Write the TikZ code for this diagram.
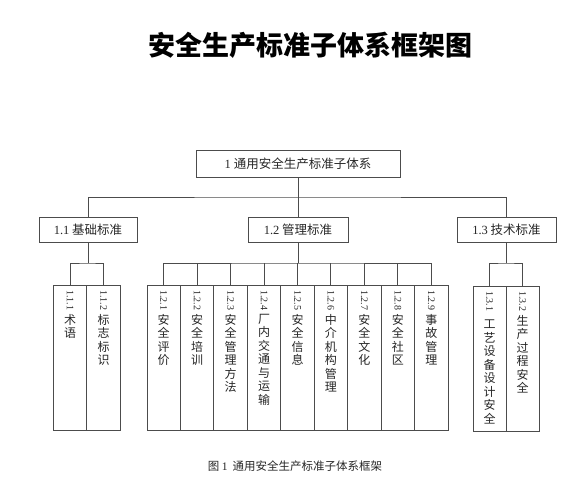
\documentclass[tikz,border=0pt]{standalone}
\usepackage{fontspec}
\usepackage{graphicx}
\setmainfont{Liberation Serif}
\newfontfamily\cjk{Noto Sans CJK SC}
\newcommand{\vnum}[1]{\rotatebox{-90}{\rmfamily\fontsize{10}{10}\selectfont #1}}

\begin{document}
\begin{tikzpicture}
			[x=1pt, y=-1pt,
			link/.style={draw=black!70, line width=.9pt},
			block/.style={draw=black!70, line width=.9pt, inner sep=0pt, font=\cjk\fontsize{12.5}{15}\selectfont, text=black!85},
			leaf/.style={draw=black!70, line width=.9pt, minimum width=33.4pt, minimum height=145pt, inner sep=0pt, anchor=north},
			vtext/.style={anchor=north, align=center, inner sep=0pt, font=\cjk\fontsize{12}{13.5}\selectfont, text=black!85}]
			\useasboundingbox (0,0) rectangle (586,499);
			\node[font=\cjk\bfseries\fontsize{27}{30}\selectfont] (title) at (310,45) {安全生产标准子体系框架图};
			% top levels
			\node[block, minimum width=204pt, minimum height=27pt] (top) at (298,163.5) {{\rmfamily 1} 通用安全生产标准子体系};
			\node[block, minimum width=98pt, minimum height=25pt] (l1) at (88,229.5) {{\rmfamily 1.1} 基础标准};
			\node[block, minimum width=100pt, minimum height=25pt] (l2) at (298,229.5) {{\rmfamily 1.2} 管理标准};
			\node[block, minimum width=99pt, minimum height=25pt] (l3) at (506.5,229.5) {{\rmfamily 1.3} 技术标准};
			\coordinate (bar) at (298,197);
			\draw[link] (top) -- (bar);
			\draw[link] (l1.north) |- (bar) -| (l3.north);
			\draw[link] (bar) -- (l2);
			% 1.1
			\node[leaf, minimum width=33.5pt] (a11) at (70,285) {};
			\node[leaf, minimum width=33.5pt] (a12) at (103.5,285) {};
			\node[vtext] (ta11) at ([yshift=-5pt]a11.north) {\vnum{1.1.1}\\[3pt] 术\\语};
			\node[vtext] (ta12) at ([yshift=-5pt]a12.north) {\vnum{1.1.2}\\[3pt] 标\\志\\标\\识};
			\coordinate (s1) at (88,263);
			\draw[link] (l1) -- (s1);
			\draw[link] (a11.north) |- (s1) -| (a12.north);
			% 1.2
			\node[leaf] (b1) at (163.7,285) {};
			\node[leaf] (b2) at (197.2,285) {};
			\node[leaf] (b3) at (230.6,285) {};
			\node[leaf] (b4) at (264.1,285) {};
			\node[leaf] (b5) at (297.5,285) {};
			\node[leaf] (b6) at (330.9,285) {};
			\node[leaf] (b7) at (364.4,285) {};
			\node[leaf] (b8) at (397.8,285) {};
			\node[leaf] (b9) at (431.3,285) {};
			\node[vtext] (tb1) at ([yshift=-5pt]b1.north) {\vnum{1.2.1}\\[3pt] 安\\全\\评\\价};
			\node[vtext] (tb2) at ([yshift=-5pt]b2.north) {\vnum{1.2.2}\\[3pt] 安\\全\\培\\训};
			\node[vtext] (tb3) at ([yshift=-5pt]b3.north) {\vnum{1.2.3}\\[3pt] 安\\全\\管\\理\\方\\法};
			\node[vtext] (tb4) at ([yshift=-5pt]b4.north) {\vnum{1.2.4}\\[3pt] 厂\\内\\交\\通\\与\\运\\输};
			\node[vtext] (tb5) at ([yshift=-5pt]b5.north) {\vnum{1.2.5}\\[3pt] 安\\全\\信\\息};
			\node[vtext] (tb6) at ([yshift=-5pt]b6.north) {\vnum{1.2.6}\\[3pt] 中\\介\\机\\构\\管\\理};
			\node[vtext] (tb7) at ([yshift=-5pt]b7.north) {\vnum{1.2.7}\\[3pt] 安\\全\\文\\化};
			\node[vtext] (tb8) at ([yshift=-5pt]b8.north) {\vnum{1.2.8}\\[3pt] 安\\全\\社\\区};
			\node[vtext] (tb9) at ([yshift=-5pt]b9.north) {\vnum{1.2.9}\\[3pt] 事\\故\\管\\理};
			\coordinate (s2) at (298,263);
			\draw[link] (l2) -- (s2);
			\draw[link] (b1.north) |- (s2) -| (b9.north);
			\draw[link] (b2.north) -- (b2.north |- s2);
			\draw[link] (b3.north) -- (b3.north |- s2);
			\draw[link] (b4.north) -- (b4.north |- s2);
			\draw[link] (b5.north) -- (b5.north |- s2);
			\draw[link] (b6.north) -- (b6.north |- s2);
			\draw[link] (b7.north) -- (b7.north |- s2);
			\draw[link] (b8.north) -- (b8.north |- s2);
			% 1.3
			\node[leaf, minimum width=33pt] (c1) at (489.5,286) {};
			\node[leaf, minimum width=33pt] (c2) at (522.5,286) {};
			\node[vtext] (tc1) at ([yshift=-5pt]c1.north) {\vnum{1.3.1}\\[8pt] 工\\艺\\设\\备\\设\\计\\安\\全};
			\node[vtext] (tc2) at ([yshift=-5pt]c2.north) {\vnum{1.3.2}\\[3pt] 生\\产\\过\\程\\安\\全};
			\coordinate (s3) at (506.5,263);
			\draw[link] (l3) -- (s3);
			\draw[link] (c1.north) |- (s3) -| (c2.north);
			\node[font=\cjk\fontsize{11.5}{14}\selectfont, text=black!85] (cap) at (295,466) {图 {\rmfamily 1}\ \ 通用安全生产标准子体系框架};
		\end{tikzpicture}
\end{document}
